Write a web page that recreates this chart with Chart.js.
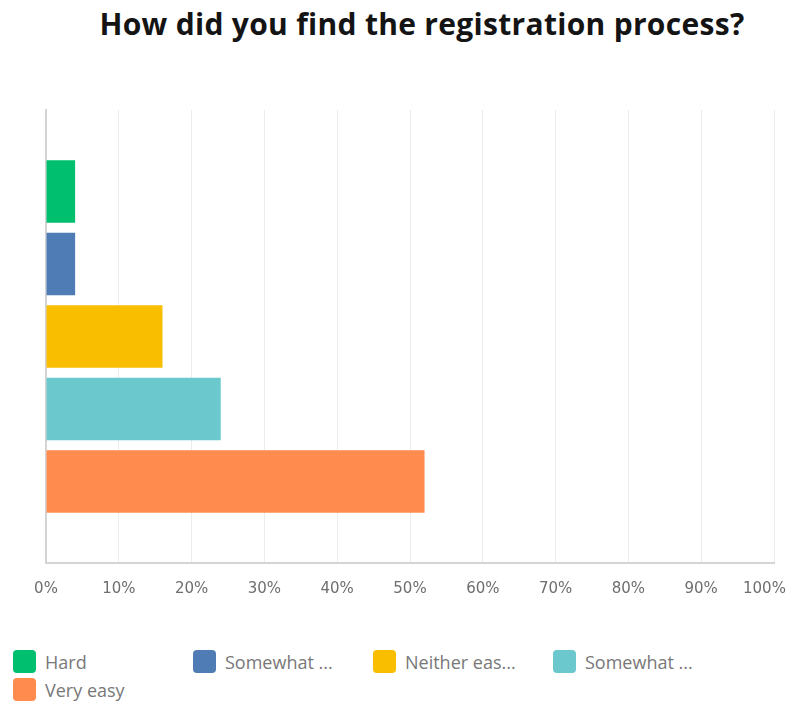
<!DOCTYPE html>
<html>
<head>
<meta charset="utf-8">
<script src="https://cdn.jsdelivr.net/npm/chart.js@4.4.1/dist/chart.umd.min.js"></script>
<style>
  html, body { margin: 0; padding: 0; background: #fff; }
  #page { position: relative; width: 790px; height: 704px; overflow: hidden; }
  #title {
    position: absolute; left: 54px; right: 0; top: 3px;
    text-align: center; font-family: "Open Sans", sans-serif; font-weight: 700;
    font-size: 30px; color: #141414; letter-spacing: 0.3px;
  }
  #chart-wrap { position: absolute; left: 0; top: 100px; width: 790px; height: 515px; }
  #legend { position: absolute; left: 0; top: 650px; width: 790px; height: 54px; }
  .lg-item { position: absolute; height: 23px; display: flex; align-items: center; }
  .lg-box { width: 23px; height: 23px; border-radius: 4px; margin-right: 9px; }
  .lg-text { font-family: "Open Sans", sans-serif; font-size: 18px; color: #787878; white-space: nowrap; }
</style>
</head>
<body>
<div id="page">
  <div id="title">How did you find the registration process?</div>
  <div id="chart-wrap"><canvas id="answers-chart"></canvas></div>
  <div id="legend"></div>
</div>
<script>
// Answer choices and share of respondents (%)
const answers = ['Hard', 'Somewhat difficult', 'Neither easy nor difficult', 'Somewhat easy', 'Very easy'];
const shares = [4, 4, 16, 24, 52];
const colors = ['#00BF6F', '#507CB6', '#F9BE00', '#6BC8CD', '#FF8B4F'];
const xTicks = [0, 10, 20, 30, 40, 50, 60, 70, 80, 90, 100];

const axisGray = '#d4d4d4';
const gridGray = '#ececec';

const answersChart = new Chart(document.getElementById('answers-chart'), {
    type: 'bar',
    data: {
        labels: [''],
        datasets: answers.map((name, i) => ({
            label: name,
            data: [shares[i]],
            backgroundColor: colors[i],
            borderWidth: 0,
            categoryPercentage: 0.8,
            barPercentage: 0.86
        }))
    },
    options: {
        indexAxis: 'y',
        responsive: true,
        maintainAspectRatio: false,
        animation: false,
        layout: { padding: { left: 46, right: 16, top: 10, bottom: 0 } },
        plugins: {
            legend: { display: false },
            title: { display: false },
            tooltip: {
                callbacks: { label: ctx => ctx.dataset.label + ': ' + ctx.parsed.x + '%' }
            }
        },
        scales: {
            x: {
                min: 0,
                max: 100,
                afterBuildTicks: axis => { axis.ticks = xTicks.map(v => ({ value: v })); },
                // let the end labels hang over the plot edges instead of shrinking it
                afterFit: axis => { axis.paddingLeft = 0; axis.paddingRight = 0; },
                ticks: {
                    // trailing spaces nudge the last label left so it stays on the canvas
                    callback: v => v === 100 ? v + '%    ' : v + '%',
                    color: '#6e6e6e',
                    padding: 17,
                    maxRotation: 0,
                    font: { family: 'DejaVu Sans', size: 15 }
                },
                grid: { color: gridGray, lineWidth: 1, drawTicks: false },
                border: { display: true, color: axisGray, width: 2 }
            },
            y: {
                ticks: { display: false },
                grid: { display: false, drawTicks: false },
                border: { display: true, color: axisGray, width: 2 }
            }
        }
    }
});

// Legend below the chart: fixed columns, long labels cut with an ellipsis
function shorten(text, maxWidth, font) {
    const ctx = document.createElement('canvas').getContext('2d');
    ctx.font = font;
    if (ctx.measureText(text).width <= maxWidth) return text;
    let cut = text;
    while (cut.length && ctx.measureText(cut).width > maxWidth) cut = cut.slice(0, -1);
    return cut + '...';
}

function buildLegend(chart) {
    const box = document.getElementById('legend');
    box.innerHTML = '';
    chart.data.datasets.forEach((ds, i) => {
        const item = document.createElement('div');
        item.className = 'lg-item';
        item.style.left = (13 + (i % 4) * 180) + 'px';
        item.style.top = (Math.floor(i / 4) * 28) + 'px';
        const sw = document.createElement('span');
        sw.className = 'lg-box';
        sw.style.background = ds.backgroundColor;
        const txt = document.createElement('span');
        txt.className = 'lg-text';
        txt.textContent = shorten(ds.label, 100, '18px "Open Sans"');
        item.appendChild(sw);
        item.appendChild(txt);
        box.appendChild(item);
    });
}

document.fonts.ready.then(() => buildLegend(answersChart));
buildLegend(answersChart);
</script>
</body>
</html>
